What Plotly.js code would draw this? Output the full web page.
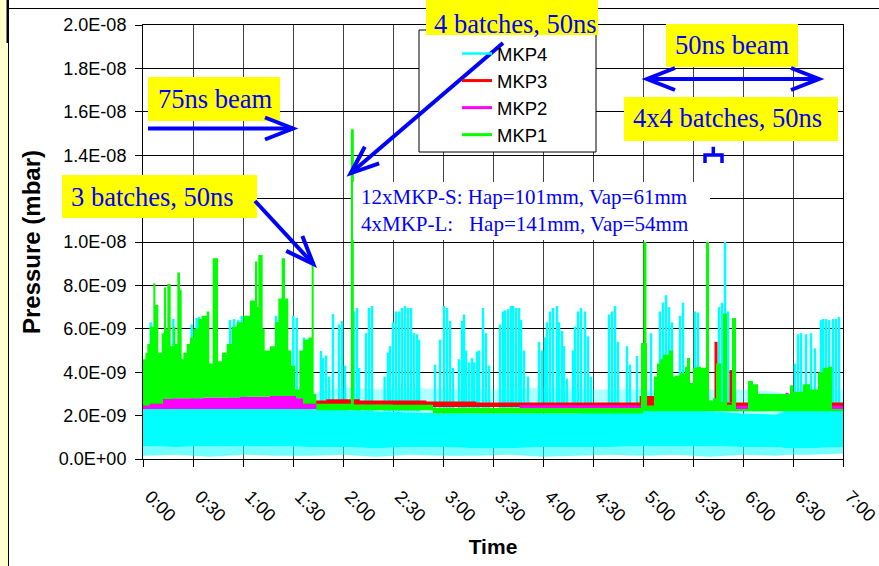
<!DOCTYPE html>
<html><head><meta charset="utf-8">
<script src="https://cdn.plot.ly/plotly-3.0.1.min.js"></script>
<style>html,body{margin:0;padding:0;background:#fff;}#chart{width:879px;height:566px;}</style>
</head><body><div id="chart"></div>
<script>
// Time: minutes since 0:00.  Pressure: units of 1e-9 mbar.
const timeTickVals = [0,30,60,90,120,150,180,210,240,270,300,330,360,390,420];
const timeTickText = ['0:00','0:30','1:00','1:30','2:00','2:30','3:00','3:30','4:00','4:30','5:00','5:30','6:00','6:30','7:00'];
const pressTickVals = [0,2,4,6,8,10,12,14,16,18,20];
const pressTickText = ['0.0E+00','2.0E-09','4.0E-09','6.0E-09','8.0E-09','1.0E-08','1.2E-08','1.4E-08','1.6E-08','1.8E-08','2.0E-08'];
const seriesNames = ['MKP4','MKP3','MKP2','MKP1'];

// MKP4 (cyan): dense noise band + upper/lower fringe + spikes
const mkp4_time     = [0,20,40,60,80,100,120,140,160,180,200,220,240,260,280,300,320,340,360,380,386,400,420];
const mkp4_top      = [2.3,2.3,2.35,2.35,2.35,2.3,2.25,2.2,2.15,2.1,2.1,2.1,2.1,2.1,2.15,2.2,2.25,2.2,2.1,2.05,2.25,2.25,2.25];
const mkp4_bottom   = [0.6,0.55,0.6,0.6,0.6,0.55,0.55,0.5,0.55,0.55,0.5,0.5,0.55,0.55,0.55,0.6,0.6,0.6,0.55,0.55,0.5,0.5,0.55];
const mkp4_dipFloor = [0.15,0.2,0.1,0.2,0.15,0.15,0.2,0.1,0.2,0.15,0.15,0.2,0.1,0.15,0.2,0.15,0.2,0.1,0.2,0.15,0.2,0.2,0.25];
const mkp4_fuzzTop  = [2.3,2.3,2.35,2.35,2.35,3.0,3.3,3.2,3.3,3.2,3.2,3.2,3.3,3.2,3.2,3.2,3.1,3.2,3.2,3.1,3.0,3.1,3.2];
const mkp4_spikes = [[4.6,6.3],[18.2,6.45],[29.2,6.2],[32.2,6.5],[33.6,6.55],[52.2,6.4],[54.6,6.45],[57.2,6.4],[59.2,6.6],[61.8,6.6],[79.8,6.6],[90.2,6.6],[92.2,6.5],[96.6,5.6],[98.2,5.5],
 [106.8,4.98],[108,4.65],[109.8,4.77],[111.6,3.8],[114,6.68],[117.6,6.2],[119.4,6.36],[121.2,4.3],[126.6,6.8],[128.4,6.96],[129.6,4.2],[133.8,5.8],[135.6,6.96],[137.4,7.05],
 [145,3.8],[147,4.9],[148.2,5.2],[150,6.3],[151.8,6.8],[153.6,6.8],[155.4,6.96],[157.2,7.05],[159,6.96],[160.8,6.96],[162.6,5.8],[164.4,5.75],[165.6,5.5],
 [175.2,4.35],[178.2,5.5],[180.6,7.05],[182.4,6.96],[184.2,6.36],[186,4.2],[189.6,4.6],[191.4,6.36],[192.6,6.66],[193.8,5.0],[195.6,4.45],[197.4,4.65],[198.6,4.45],[200.4,4.95],[201.6,5.0],[204,6.96],[205.8,5.8],[207.6,4.3],
 [214.2,6.2],[216,6.8],[217.2,6.85],[219,6.9],[220.8,7.05],[222,7.05],[223.8,6.96],[225.6,6.96],[226.8,6.4],[228.6,5.0],[231,3.8],
 [237.6,5.4],[239.4,5.0],[241.2,5.6],[242.4,6.3],[244.2,6.8],[246,6.96],[248.4,7.05],[249.6,6.3],[251.4,5.9],[252.6,5.2],[254.4,3.7],
 [258,5.0],[259.2,6.1],[261,6.8],[262.8,6.96],[265.2,6.8],[267,5.65],[268.8,3.8],[279.6,6.66],[281.4,6.8],[283.2,7.05],[285,5.4],[290.4,5.2],[292.2,4.35],[296.4,4.75],
 [304.8,5.8],[310.2,6.8],[312,7.2],[313.8,7.55],[315.6,7.0],[317.4,6.3],[322.2,6.6],[324,7.2],[331.2,6.8],[333,6.75],[345.6,7.0],[347.4,7.2],[349.2,10.0],[351,6.8],
 [391.2,4.4],[393,5.75],[394.8,5.8],[397.8,5.75],[400.8,5.8],[403.2,5.1],[406.8,6.4],[408,6.45],[409.8,6.45],[411.6,6.4],[414,6.45],[415.8,6.45],[417.6,6.55]];
const mkp4_spikeBase = 2.2;

// MKP3 (red)
const mkp3_time   = [0,100,110,130,150,170,200,240,280,296,298,307,310,340,370,400,420];
const mkp3_bottom = [2.45,2.45,2.5,2.5,2.45,2.4,2.4,2.4,2.4,2.4,2.45,2.45,2.4,2.4,2.4,2.4,2.4];
const mkp3_top    = [2.7,2.7,2.75,2.7,2.7,2.65,2.6,2.6,2.6,2.6,2.9,2.9,2.6,2.6,2.6,2.6,2.6];
const mkp3_spikes = [[343.8,5.4],[352.8,4.1]];
const mkp3_spikeBase = 2.6;

// MKP2 (magenta)
const mkp2_time   = [0,4,12,18,36,58,76,92,96,106,226,296,420];
const mkp2_bottom = [2.3,2.3,2.3,2.3,2.3,2.3,2.3,2.3,2.3,2.3,2.3,2.3,2.3];
const mkp2_top    = [2.46,2.55,2.76,2.8,2.83,2.87,2.9,2.8,2.55,2.35,2.48,2.45,2.45];
const mkp2_spikes = [[372,3.0],[386.4,3.05],[391,2.9]];
const mkp2_spikeBase = 2.45;

// MKP1 (green)
const mkp1_floor = [[0,2.46],[4,2.55],[12,2.76],[18,2.8],[36,2.83],[58,2.87],[76,2.9],[92,2.8],[96,2.55],[104,2.25],[174,2.1],[300,2.2],[420,2.2]];
const mkp1_top = [[0,4.6],[1.5,4.9],[2.6,5.3],[4.2,6.1],[6.2,8.1],[7.4,7.1],[9.2,4.9],[11.2,5.8],[12.6,7.9],[13.8,6.0],[14.6,8.06],[16.6,5.2],[18.2,6.1],[19.4,5.3],[20.6,8.6],[22.2,7.8],[23.2,4.6],[24.2,4.9],[26.2,5.3],[28.2,5.6],[30.2,6.0],[33.2,6.45],[35.2,6.6],[38.2,6.8],[39.8,4.4],[41.8,9.25],[45,4.5],[47.4,4.9],[50.2,5.3],[53.2,6.1],[56.2,6.3],[60.2,6.6],[64.2,7.3],[67.2,9.1],[68.6,7.0],[69.2,9.4],[71.8,6.0],[73,5.0],[76.2,5.2],[79.2,6.3],[81.2,7.4],[83.2,9.25],[85.2,7.4],[87.2,5.0],[89,4.3],[91.2,3.2],[93.8,5.0],[96.2,5.5],[99.2,5.6],[101.2,9.1],[102.4,3.0],
 [104,2.55],[126.4,2.5],[174,2.35],[298.8,5.35],[302.4,2.45],[306.6,3.8],[308.4,4.4],[310.2,4.6],[312,4.8],[315.6,5.0],[318,3.8],[319.2,3.85],[322.2,3.95],[325.2,4.25],[326.4,4.65],[328.2,3.5],[330,4.2],[332.4,4.25],[334.8,4.2],[337.8,4.3],[339.6,2.7],[342,2.8],[343.8,4.4],[346.8,2.6],[348,6.7],[350.4,2.5],[353.4,6.5],[355.8,2.3],[363,3.6],[366,3.45],[369,3.0],[388.2,3.4],[390,3.1],[396,3.45],[400.2,3.2],[405,4.0],[408,4.2],[411,4.25],[413.4,2.3],[420,2.3]];
const mkp1_spikes = [[125.6,15.2],[301.2,10.0],[338.7,10.0]];
const mkp1_spikeBase = 2.4;

const COLORS = {MKP4:'#00FFFF', MKP3:'#FF0000', MKP2:'#FF00FF', MKP1:'#00FF00'};

function spikeXY(list, base){const x=[],y=[];list.forEach(p=>{x.push(p[0],p[0],null);y.push(base,p[1],null);});return {x,y};}
function edge(x,y,shape,fill,fillcolor){const t={type:'scatter',mode:'lines',x:x,y:y,line:{width:0,shape:shape||'linear'},showlegend:false,hoverinfo:'skip'};if(fill){t.fill='tonexty';t.fillcolor=fillcolor;}return t;}
function spikes(name,list,base,w){const s=spikeXY(list,base);return {type:'scatter',mode:'lines',name:name,x:s.x,y:s.y,line:{color:COLORS[name],width:w},showlegend:true,hoverinfo:'skip'};}
const px = p => p[0], pv = p => p[1];

const data = [
  // MKP4
  edge(mkp4_time, mkp4_dipFloor),
  edge(mkp4_time, mkp4_bottom, 'linear', true, 'rgba(0,255,255,0.55)'),
  edge(mkp4_time, mkp4_top, 'linear', true, COLORS.MKP4),
  edge(mkp4_time, mkp4_fuzzTop, 'linear', true, 'rgba(0,255,255,0.3)'),
  spikes('MKP4', mkp4_spikes, mkp4_spikeBase, 2.5),
  // MKP3
  edge(mkp3_time, mkp3_bottom, 'hv'),
  edge(mkp3_time, mkp3_top, 'hv', true, COLORS.MKP3),
  spikes('MKP3', mkp3_spikes, mkp3_spikeBase, 3),
  // MKP2
  edge(mkp2_time, mkp2_bottom, 'hv'),
  edge(mkp2_time, mkp2_top, 'hv', true, COLORS.MKP2),
  spikes('MKP2', mkp2_spikes, mkp2_spikeBase, 3),
  // MKP1
  edge(mkp1_floor.map(px), mkp1_floor.map(pv), 'hv'),
  edge(mkp1_top.map(px), mkp1_top.map(pv), 'hv', true, COLORS.MKP1),
  spikes('MKP1', mkp1_spikes, mkp1_spikeBase, 3)
];

// pixel -> paper helpers for decorations
const PL=143, PW=700, PT=25, PH=434;
const X = x => (x-PL)/PW, Y = y => (PT+PH-y)/PH;
const BLUE='#0000FF', YEL='#FFFF00';
function rect(x0,y0,x1,y1,fill,line){return {type:'rect',xref:'paper',yref:'paper',layer:'above',x0:X(x0),x1:X(x1),y0:Y(y1),y1:Y(y0),fillcolor:fill,line:line||{width:0}};}
function seg(x0,y0,x1,y1,color,w){return {type:'line',xref:'paper',yref:'paper',layer:'above',x0:X(x0),y0:Y(y0),x1:X(x1),y1:Y(y1),line:{color:color,width:w}};}
function head(xt,yt,xf,yf){const dx=xt-xf,dy=yt-yf,l=Math.hypot(dx,dy),ux=dx/l,uy=dy/l,L=28,W=11;
  const ax=xt-L*ux-W*uy, ay=yt-L*uy+W*ux, bx=xt-L*ux+W*uy, by=yt-L*uy-W*ux;
  return {type:'path',xref:'paper',yref:'paper',layer:'above',path:`M${X(ax)},${Y(ay)} L${X(xt)},${Y(yt)} L${X(bx)},${Y(by)}`,line:{color:BLUE,width:4}};}
function arrow(x0,y0,x1,y1,both){const s=[seg(x0,y0,x1,y1,BLUE,4),head(x1,y1,x0,y0)];if(both)s.push(head(x0,y0,x1,y1));return s;}

const shapes = [
  rect(0,0,8,566,'#FFFFCC'),
  seg(8.5,0,8.5,566,'#000',1),
  seg(9,8.5,879,8.5,'#000',1),
  seg(7.5,0,7.5,43,'#000',2),
  rect(419,30,596,152,'#FFFFFF',{color:'#000',width:1}),
  rect(353,182,710,240,'#FFFFFF'),
  rect(148,77,280,121,YEL),
  rect(62,175,257,218,YEL),
  rect(426,-10,598,35,YEL),
  rect(666,24,798,67,YEL),
  rect(624,97,838,141,YEL),
  ...arrow(148,128.5,293,128.5),
  ...arrow(255,201,313.3,264),
  ...arrow(503,43,350.7,173.3),
  ...arrow(647,79,819,79,true),
  {type:'path',xref:'paper',yref:'paper',layer:'above',path:`M${X(713.3)},${Y(146.7)} L${X(713.3)},${Y(155)} M${X(705)},${Y(163)} L${X(705)},${Y(155)} L${X(722)},${Y(155)} L${X(722)},${Y(163)}`,line:{color:BLUE,width:3.5}}
];

const serif = {family:'Liberation Serif, Times New Roman, serif', size:26.5, color:BLUE};
function label(text,x,y,font){return {text:text,xref:'paper',yref:'paper',x:X(x),y:Y(y),xanchor:'left',yanchor:'middle',showarrow:false,align:'left',font:font||serif,borderpad:0};}
const annotations = [
  label('75ns beam',157,99),
  label('3 batches, 50ns',70,196.8),
  label('4 batches, 50ns',433,23.5),
  label('50ns beam',674,45),
  label('4x4 batches, 50ns',631.7,118),
  label('12xMKP-S: Hap=101mm, Vap=61mm<br>4xMKP-L:\u00A0\u00A0\u00A0Hap=141mm, Vap=54mm',360,210.8,{family:'Liberation Serif, Times New Roman, serif',size:21,color:BLUE})
];

const sans = 'Liberation Sans, Arial, sans-serif';
const layout = {
  width:879, height:566,
  margin:{l:143,r:36,t:25,b:107},
  paper_bgcolor:'#FFFFFF', plot_bgcolor:'#FFFFFF',
  font:{family:sans,color:'#000'},
  showlegend:true,
  legend:{x:X(457),y:Y(35),xanchor:'left',yanchor:'top',traceorder:'normal',bgcolor:'rgba(0,0,0,0)',borderwidth:0,font:{family:sans,size:18.5,color:'#000'},tracegroupgap:0},
  xaxis:{range:[0,420],tickmode:'array',tickvals:timeTickVals,ticktext:timeTickText,tickangle:45,ticks:'outside',ticklen:7,tickcolor:'#000',ticklabelstandoff:12,ticklabelshift:7,ticklabeloverflow:'allow',
    showline:true,linecolor:'#000',linewidth:1,mirror:true,showgrid:true,gridcolor:'#404040',gridwidth:1,zeroline:false,
    tickfont:{family:sans,size:18,color:'#000'},title:{text:'<b>Time</b>',font:{family:sans,size:21,color:'#000'},standoff:14}},
  yaxis:{range:[0,20],tickmode:'array',tickvals:pressTickVals,ticktext:pressTickText,ticks:'outside',ticklen:7,tickcolor:'#000',ticklabelstandoff:5,
    showline:true,linecolor:'#000',linewidth:1,mirror:true,showgrid:true,gridcolor:'#000',gridwidth:1,zeroline:false,
    tickfont:{family:sans,size:18,color:'#000'},title:{text:'<b>Pressure (mbar)</b>',font:{family:sans,size:24,color:'#000'},standoff:11}},
  shapes:shapes,
  annotations:annotations
};
Plotly.newPlot('chart', data, layout, {displayModeBar:false, staticPlot:true});
</script></body></html>
